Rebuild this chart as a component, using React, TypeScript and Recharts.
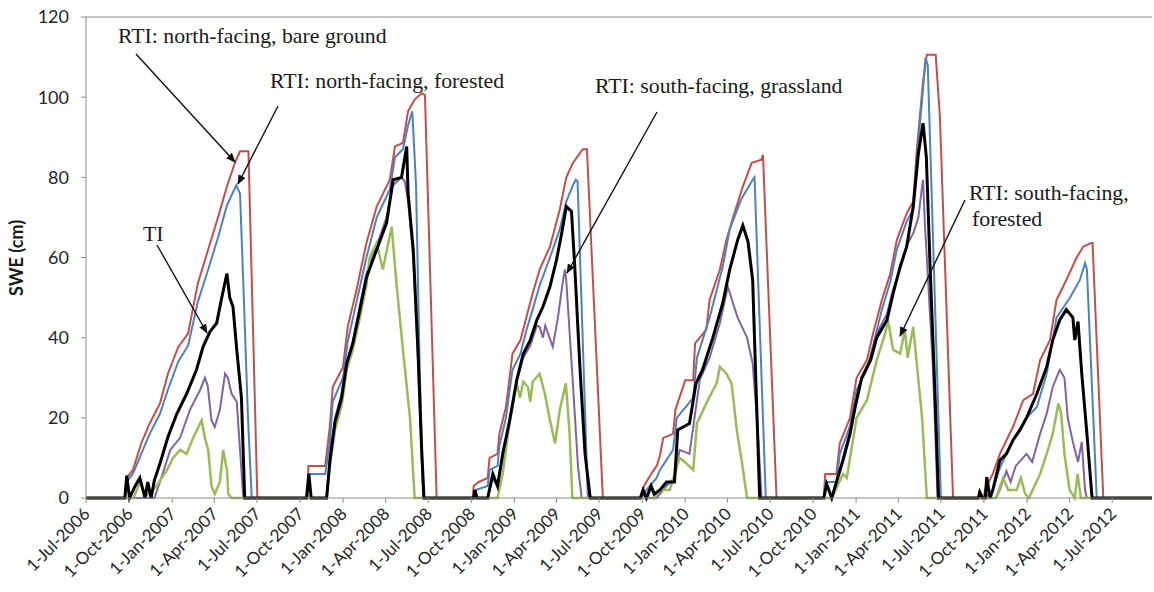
import React from 'react';
import { LineChart, Line, XAxis, YAxis, ReferenceLine } from 'recharts';

type Pt = [string, number];

// RTI: north-facing, bare ground (red)
const northBare: Pt[] = [
  ['2006-07-01', 0],
  ['2006-09-22', 0], ['2006-09-26', 5], ['2006-10-09', 7], ['2006-10-27', 13.6], ['2006-11-14', 18.6], ['2006-12-06', 23.6], ['2006-12-23', 31], ['2007-01-14', 37.7], ['2007-02-04', 41], ['2007-02-25', 53.6], ['2007-03-19', 62], ['2007-04-09', 70], ['2007-04-28', 77.7], ['2007-05-15', 83.6], ['2007-05-26', 86.5], ['2007-06-13', 86.5], ['2007-07-02', 0],
  ['2007-10-17', 0], ['2007-10-19', 8], ['2007-11-24', 8], ['2007-12-04', 18], ['2007-12-10', 27.7], ['2008-01-01', 32.7], ['2008-01-11', 42.7], ['2008-01-30', 52], ['2008-02-20', 63.6], ['2008-03-13', 72.7], ['2008-04-10', 79.4], ['2008-04-21', 87.7], ['2008-05-08', 88.6], ['2008-05-19', 96.5], ['2008-06-02', 99.4], ['2008-06-17', 101], ['2008-06-24', 100.5], ['2008-07-19', 0],
  ['2008-10-04', 0], ['2008-10-06', 3], ['2008-10-17', 4], ['2008-11-05', 5], ['2008-11-09', 10], ['2008-11-26', 11], ['2008-11-30', 16], ['2008-12-14', 22.7], ['2008-12-28', 36], ['2009-01-14', 39.4], ['2009-01-27', 45.2], ['2009-02-09', 51], ['2009-02-24', 57], ['2009-03-18', 62.7], ['2009-04-08', 72], ['2009-04-22', 80], ['2009-05-06', 83.6], ['2009-05-27', 87], ['2009-06-05', 87], ['2009-07-09', 0],
  ['2009-09-27', 0], ['2009-10-05', 3], ['2009-10-20', 6], ['2009-11-01', 8], ['2009-11-08', 10.6], ['2009-11-15', 15], ['2009-12-06', 16], ['2009-12-11', 22], ['2010-01-01', 29.4], ['2010-01-18', 29.4], ['2010-01-22', 38.6], ['2010-02-15', 42], ['2010-02-22', 49.4], ['2010-03-16', 57], ['2010-03-30', 64.4], ['2010-04-13', 70], ['2010-05-04', 77.7], ['2010-05-23', 83.6], ['2010-06-13', 84.4], ['2010-06-16', 85.6], ['2010-07-15', 0],
  ['2010-10-24', 0], ['2010-10-27', 6], ['2010-11-20', 6], ['2010-11-27', 13.6], ['2010-12-19', 20], ['2011-01-02', 30], ['2011-01-24', 34.4], ['2011-02-06', 41], ['2011-02-25', 49.4], ['2011-03-15', 56], ['2011-03-29', 64.4], ['2011-04-19', 71], ['2011-05-03', 74], ['2011-05-10', 86], ['2011-05-17', 95], ['2011-05-24', 104], ['2011-05-29', 108], ['2011-06-01', 110.6], ['2011-06-20', 110.6], ['2011-06-29', 95], ['2011-07-27', 0],
  ['2011-10-01', 0], ['2011-10-03', 2], ['2011-10-20', 6], ['2011-11-04', 11], ['2011-12-02', 17.7], ['2011-12-24', 24.4], ['2012-01-14', 26], ['2012-01-29', 34.4], ['2012-02-19', 39.4], ['2012-03-04', 49.4], ['2012-03-25', 54.4], ['2012-04-16', 60], ['2012-04-30', 62.7], ['2012-05-17', 63.6], ['2012-05-20', 63.6], ['2012-06-12', 0],
  ['2012-09-24', 0],
];

// RTI: north-facing, forested (blue)
const northForest: Pt[] = [
  ['2006-07-01', 0],
  ['2006-09-22', 0], ['2006-09-26', 4], ['2006-10-09', 6], ['2006-10-27', 11], ['2006-11-14', 16], ['2006-12-06', 21], ['2006-12-23', 27], ['2007-01-14', 34], ['2007-02-04', 38], ['2007-02-25', 49], ['2007-03-19', 57], ['2007-04-09', 65], ['2007-04-28', 73], ['2007-05-18', 78], ['2007-05-26', 76], ['2007-06-02', 53.6], ['2007-06-12', 20], ['2007-06-20', 0],
  ['2007-10-17', 0], ['2007-10-19', 6], ['2007-11-24', 6], ['2007-12-04', 14], ['2007-12-10', 24], ['2008-01-01', 30], ['2008-01-11', 39], ['2008-01-30', 49], ['2008-02-20', 60], ['2008-03-13', 70], ['2008-04-10', 77], ['2008-04-21', 85], ['2008-05-08', 87], ['2008-05-19', 93], ['2008-05-28', 96.5], ['2008-06-05', 78], ['2008-06-12', 37], ['2008-06-20', 0],
  ['2008-10-06', 0], ['2008-10-10', 2], ['2008-11-05', 3], ['2008-11-09', 7], ['2008-11-26', 8], ['2008-11-30', 13], ['2008-12-14', 20], ['2008-12-28', 32], ['2009-01-14', 36], ['2009-01-27', 42], ['2009-02-09', 47], ['2009-02-24', 53], ['2009-03-18', 60], ['2009-04-08', 67], ['2009-04-22', 74], ['2009-05-06', 78], ['2009-05-12', 79.4], ['2009-05-16', 79], ['2009-06-07', 0],
  ['2009-09-30', 0], ['2009-10-10', 2], ['2009-11-01', 5], ['2009-11-08', 7], ['2009-12-06', 12], ['2009-12-14', 20], ['2010-01-18', 25], ['2010-01-26', 35], ['2010-02-22', 45], ['2010-03-22', 57.7], ['2010-04-06', 67], ['2010-04-30', 74.4], ['2010-05-25', 79.4], ['2010-05-29', 80], ['2010-06-22', 0],
  ['2010-10-24', 0], ['2010-10-27', 4], ['2010-11-20', 4], ['2010-11-27', 11], ['2010-12-19', 18], ['2011-01-02', 27], ['2011-01-24', 32], ['2011-02-06', 38], ['2011-02-25', 47], ['2011-03-15', 54], ['2011-03-29', 62], ['2011-04-19', 69], ['2011-05-03', 72], ['2011-05-10', 83], ['2011-05-17', 93], ['2011-05-24', 102], ['2011-05-29', 109.8], ['2011-06-03', 108], ['2011-07-01', 0],
  ['2011-10-03', 0], ['2011-10-20', 2], ['2011-11-04', 7.5], ['2011-12-02', 14.4], ['2011-12-31', 20], ['2012-01-22', 22.7], ['2012-02-12', 31], ['2012-03-04', 45], ['2012-04-02', 50], ['2012-04-23', 54.4], ['2012-05-04', 58.6], ['2012-05-08', 57], ['2012-05-29', 0],
  ['2012-09-24', 0],
];

// TI (black)
const tiSwe: Pt[] = [
  ['2006-07-01', 0],
  ['2006-09-22', 0], ['2006-09-26', 5.6], ['2006-10-02', 0], ['2006-10-14', 3], ['2006-10-24', 5], ['2006-11-04', 0], ['2006-11-10', 4], ['2006-11-17', 0], ['2006-11-24', 4.4], ['2006-12-06', 8.6], ['2006-12-23', 15.2], ['2007-01-11', 21], ['2007-02-01', 26], ['2007-02-22', 32], ['2007-03-08', 37.7], ['2007-03-23', 41.5], ['2007-04-06', 43.6], ['2007-04-17', 50], ['2007-04-28', 56], ['2007-05-04', 50], ['2007-05-11', 47.7], ['2007-05-19', 37], ['2007-05-29', 25], ['2007-06-05', 0],
  ['2007-10-15', 0], ['2007-10-20', 6], ['2007-10-25', 0], ['2007-11-27', 0], ['2007-12-04', 9.4], ['2007-12-15', 19], ['2007-12-29', 25], ['2008-01-09', 33.6], ['2008-01-22', 38.6], ['2008-02-06', 47], ['2008-02-20', 55], ['2008-03-13', 62], ['2008-04-03', 68.6], ['2008-04-17', 79.4], ['2008-05-05', 80], ['2008-05-16', 87.7], ['2008-05-19', 76], ['2008-05-30', 62], ['2008-06-09', 37], ['2008-06-17', 12], ['2008-06-22', 0],
  ['2008-10-06', 0], ['2008-10-09', 2], ['2008-10-13', 0], ['2008-11-05', 0], ['2008-11-16', 6], ['2008-11-26', 3], ['2008-12-07', 11], ['2008-12-22', 19.4], ['2009-01-06', 29.4], ['2009-01-20', 36], ['2009-02-04', 39.4], ['2009-02-18', 44.4], ['2009-03-03', 47.7], ['2009-03-18', 52.7], ['2009-04-01', 59.4], ['2009-04-12', 66], ['2009-04-22', 72.7], ['2009-05-03', 71.5], ['2009-05-10', 57.7], ['2009-05-21', 32.7], ['2009-06-01', 11], ['2009-06-12', 0],
  ['2009-09-27', 0], ['2009-10-03', 2], ['2009-10-10', 0], ['2009-10-20', 3], ['2009-10-27', 1], ['2009-11-08', 2], ['2009-11-22', 4], ['2009-12-09', 4], ['2009-12-16', 17], ['2010-01-10', 18.6], ['2010-01-24', 28.6], ['2010-02-07', 32], ['2010-03-01', 40], ['2010-03-22', 48.6], ['2010-04-06', 57], ['2010-04-23', 64.4], ['2010-05-04', 68], ['2010-05-15', 64], ['2010-05-25', 54.4], ['2010-06-02', 25], ['2010-06-09', 0],
  ['2010-10-24', 0], ['2010-10-30', 3.5], ['2010-11-10', 0], ['2010-11-20', 4], ['2010-12-04', 9.4], ['2010-12-19', 16], ['2010-12-30', 22.7], ['2011-01-13', 30], ['2011-02-01', 34.4], ['2011-02-14', 40], ['2011-03-08', 44.4], ['2011-03-21', 51], ['2011-04-05', 57.7], ['2011-04-19', 62.7], ['2011-05-03', 72.7], ['2011-05-14', 86], ['2011-05-24', 93.5], ['2011-05-31', 85], ['2011-06-08', 57.7], ['2011-06-19', 24.4], ['2011-06-26', 0],
  ['2011-09-19', 0], ['2011-09-22', 1.5], ['2011-09-28', 0], ['2011-10-04', 0], ['2011-10-07', 5.2], ['2011-10-14', 0], ['2011-10-20', 2], ['2011-11-04', 9.4], ['2011-11-18', 11], ['2011-12-02', 14.4], ['2011-12-17', 17], ['2011-12-31', 20], ['2012-01-22', 26], ['2012-02-12', 32.7], ['2012-02-25', 39.4], ['2012-03-11', 44.4], ['2012-03-25', 47], ['2012-04-08', 45], ['2012-04-12', 39.4], ['2012-04-19', 44], ['2012-04-27', 31], ['2012-05-08', 16], ['2012-05-19', 0],
  ['2012-09-24', 0],
];

// RTI: south-facing, grassland (purple)
const southGrass: Pt[] = [
  ['2006-07-01', 0],
  ['2006-11-24', 0], ['2006-12-06', 4], ['2006-12-28', 12], ['2007-01-18', 15], ['2007-02-08', 22], ['2007-03-02', 27], ['2007-03-12', 30], ['2007-03-18', 28], ['2007-03-26', 19.4], ['2007-04-02', 17.7], ['2007-04-13', 22], ['2007-04-24', 31], ['2007-04-30', 30], ['2007-05-08', 26], ['2007-05-19', 24], ['2007-05-26', 12], ['2007-06-02', 0],
  ['2007-11-27', 0], ['2007-12-04', 10], ['2007-12-15', 20], ['2007-12-29', 26], ['2008-01-09', 34], ['2008-01-22', 39], ['2008-02-06', 48], ['2008-02-20', 56], ['2008-03-13', 63], ['2008-04-03', 70], ['2008-04-17', 78], ['2008-05-05', 80], ['2008-05-12', 79], ['2008-05-19', 74], ['2008-05-30', 60], ['2008-06-09', 35], ['2008-06-17', 10], ['2008-06-21', 0],
  ['2008-11-05', 0], ['2008-11-16', 5], ['2008-11-26', 3], ['2008-12-07', 10], ['2008-12-22', 19], ['2009-01-06', 29], ['2009-01-20', 35], ['2009-02-04', 38], ['2009-02-18', 43], ['2009-02-24', 42.7], ['2009-03-03', 40], ['2009-03-08', 43], ['2009-03-24', 37.7], ['2009-04-04', 45], ['2009-04-15', 54.4], ['2009-04-19', 57], ['2009-04-22', 54], ['2009-05-06', 28.6], ['2009-05-17', 7.7], ['2009-05-25', 0],
  ['2009-11-01', 0], ['2009-11-22', 3], ['2009-12-09', 5], ['2009-12-20', 12], ['2010-01-10', 11], ['2010-02-01', 29.4], ['2010-02-22', 35], ['2010-03-16', 43.6], ['2010-04-02', 52.7], ['2010-04-13', 48.6], ['2010-04-23', 45], ['2010-05-13', 40], ['2010-05-25', 33.6], ['2010-06-05', 17], ['2010-06-13', 0],
  ['2010-11-10', 0], ['2010-11-20', 4], ['2010-12-04', 10], ['2010-12-19', 17], ['2010-12-30', 24], ['2011-01-13', 30], ['2011-02-01', 35], ['2011-02-14', 41], ['2011-03-08', 46], ['2011-03-21', 52], ['2011-04-05', 57], ['2011-04-19', 63], ['2011-05-03', 66], ['2011-05-14', 70], ['2011-05-20', 76], ['2011-05-24', 79.4], ['2011-05-28', 68], ['2011-06-01', 60], ['2011-06-14', 32.7], ['2011-06-24', 0],
  ['2011-10-27', 0], ['2011-11-04', 2], ['2011-11-18', 6.7], ['2011-11-27', 4], ['2011-12-08', 8], ['2011-12-31', 11], ['2012-01-12', 9], ['2012-01-29', 16], ['2012-02-12', 21], ['2012-02-25', 27.7], ['2012-03-11', 32], ['2012-03-21', 30], ['2012-03-28', 20], ['2012-04-08', 14], ['2012-04-19', 9], ['2012-04-27', 14], ['2012-05-04', 2], ['2012-05-08', 0],
  ['2012-09-24', 0],
];

// RTI: south-facing, forested (green)
const southForest: Pt[] = [
  ['2006-07-01', 0],
  ['2006-10-10', 0], ['2006-10-14', 1], ['2006-10-24', 4], ['2006-11-07', 0.5], ['2006-11-29', 3], ['2006-12-21', 7], ['2007-01-03', 10], ['2007-01-18', 12], ['2007-02-01', 11], ['2007-02-15', 15], ['2007-02-26', 17.7], ['2007-03-05', 19.4], ['2007-03-12', 15], ['2007-03-19', 12], ['2007-03-26', 3], ['2007-04-02', 1], ['2007-04-13', 4], ['2007-04-20', 12], ['2007-04-28', 7], ['2007-05-01', 1], ['2007-05-08', 0],
  ['2007-11-27', 0], ['2007-12-04', 8], ['2007-12-15', 17], ['2007-12-29', 23], ['2008-01-09', 32], ['2008-01-22', 37], ['2008-02-06', 45], ['2008-02-20', 53], ['2008-02-27', 60], ['2008-03-13', 63.6], ['2008-03-26', 57], ['2008-04-14', 67.7], ['2008-04-24', 53.6], ['2008-05-08', 37], ['2008-05-23', 20], ['2008-06-02', 0],
  ['2008-11-26', 0], ['2008-12-07', 6], ['2008-12-22', 19], ['2009-01-06', 28.6], ['2009-01-13', 25], ['2009-01-20', 29], ['2009-01-30', 27.7], ['2009-02-04', 24], ['2009-02-09', 29], ['2009-02-24', 31], ['2009-03-07', 26], ['2009-03-18', 19.4], ['2009-03-29', 13.6], ['2009-04-08', 22], ['2009-04-21', 28.6], ['2009-04-29', 16], ['2009-05-05', 0],
  ['2009-10-13', 0], ['2009-10-20', 3], ['2009-10-27', 0], ['2009-11-08', 2], ['2009-11-29', 2], ['2009-12-20', 10], ['2009-12-31', 9], ['2010-01-18', 7], ['2010-01-26', 18.6], ['2010-02-15', 23.6], ['2010-03-09', 28.6], ['2010-03-16', 32.7], ['2010-03-30', 31], ['2010-04-10', 28.6], ['2010-04-21', 17], ['2010-05-02', 9], ['2010-05-13', 0],
  ['2010-11-10', 0], ['2010-12-04', 6], ['2010-12-12', 5], ['2011-01-02', 20], ['2011-01-24', 24.4], ['2011-02-14', 34.4], ['2011-03-04', 41], ['2011-03-10', 44.4], ['2011-03-21', 37], ['2011-04-05', 36], ['2011-04-15', 42], ['2011-04-21', 35], ['2011-05-03', 42.7], ['2011-05-14', 29.4], ['2011-05-22', 20], ['2011-06-01', 0],
  ['2011-10-27', 0], ['2011-11-11', 5], ['2011-11-22', 2], ['2011-12-10', 2], ['2011-12-19', 5], ['2011-12-28', 1], ['2012-01-05', 0], ['2012-01-29', 6], ['2012-02-12', 11], ['2012-02-25', 16], ['2012-03-08', 23.6], ['2012-03-14', 21], ['2012-03-21', 11], ['2012-04-01', 2], ['2012-04-12', 0], ['2012-04-18', 6], ['2012-04-25', 0],
  ['2012-09-24', 0],
];

const xTickDates = [
  '2006-07-01', '2006-10-01', '2007-01-01', '2007-04-01', '2007-07-01', '2007-10-01', '2008-01-01', '2008-04-01', '2008-07-01',
  '2008-10-01', '2009-01-01', '2009-04-01', '2009-07-01', '2009-10-01', '2010-01-01', '2010-04-01', '2010-07-01', '2010-10-01',
  '2011-01-01', '2011-04-01', '2011-07-01', '2011-10-01', '2012-01-01', '2012-04-01', '2012-07-01',
];
const xDomain = ['2006-07-01', '2012-09-24'];
const yTicks = [0, 20, 40, 60, 80, 100, 120];
const MONTHS = ['Jan', 'Feb', 'Mar', 'Apr', 'May', 'Jun', 'Jul', 'Aug', 'Sep', 'Oct', 'Nov', 'Dec'];

const toT = (s: string) => {
  const [y, m, d] = s.split('-').map(Number);
  return Date.UTC(y, m - 1, d);
};
const fmt = (t: number) => {
  const d = new Date(t);
  return `${d.getUTCDate()}-${MONTHS[d.getUTCMonth()]}-${d.getUTCFullYear()}`;
};
const toRows = (pts: Pt[]) => pts.map(([d, v]) => ({ t: toT(d), v }));

const XTick = (props: any) => {
  const { x, y, payload } = props;
  const ox = x + 5;
  const oy = y + 10;
  return (
    <text x={ox} y={oy} transform={`rotate(-45, ${ox}, ${oy})`} textAnchor="end" fontSize={17} fontFamily="Lato" fill="#262626">
      {fmt(payload.value)}
    </text>
  );
};

const AXIS = '#8c8c8c';

export default function App() {
  const series = [
    { pts: northBare, color: '#C0504D', w: 2 },
    { pts: northForest, color: '#4F81BD', w: 2 },
    { pts: southGrass, color: '#8064A2', w: 2 },
    { pts: southForest, color: '#9BBB59', w: 2.5 },
    { pts: tiSwe, color: '#000000', w: 3 },
  ];
  const serif = '"Liberation Serif", "Times New Roman", serif';
  return (
    <div style={{ position: 'absolute', left: 0, top: 0, width: 1154, height: 592, background: '#fff' }}>
      <LineChart width={1154} height={592} margin={{ top: 17, right: 2, left: 0, bottom: 0 }}>
        <XAxis
          type="number"
          dataKey="t"
          domain={[toT(xDomain[0]), toT(xDomain[1])]}
          ticks={xTickDates.map(toT)}
          tick={<XTick />}
          tickSize={5}
          tickMargin={2}
          height={94}
          interval={0}
          allowDataOverflow
          axisLine={{ stroke: AXIS }}
          tickLine={{ stroke: AXIS }}
        />
        <YAxis
          type="number"
          domain={[0, 120]}
          ticks={yTicks}
          width={86}
          tickSize={5}
          tickMargin={12}
          axisLine={{ stroke: AXIS }}
          tickLine={{ stroke: AXIS }}
          tick={{ fontSize: 18, fontFamily: 'Lato', fill: '#262626' }}
        />
        <ReferenceLine y={120} stroke={AXIS} />
        {series.map((s, i) => (
          <Line
            key={i}
            data={toRows(s.pts)}
            dataKey="v"
            type="linear"
            stroke={s.color}
            strokeWidth={s.w}
            dot={false}
            activeDot={false}
            isAnimationActive={false}
          />
        ))}
      </LineChart>
      <svg width={1154} height={592} style={{ position: 'absolute', left: 0, top: 0, pointerEvents: 'none' }}>
        <defs>
          <marker id="ah" viewBox="0 0 10 10" refX="9" refY="5" markerWidth="7" markerHeight="7" orient="auto">
            <path d="M0,1 L10,5 L0,9 z" fill="#111" />
          </marker>
        </defs>
        <text x={23} y={258} transform="rotate(-90, 23, 258)" textAnchor="middle" fontFamily="Lato" fontWeight="bold" fontSize={18} fill="#1a1a1a">
          SWE (cm)
        </text>
        <g fontFamily={serif} fontSize={21.8} fill="#1a1a1a">
          <text x={118} y={43}>RTI: north-facing, bare ground</text>
          <text x={270} y={88}>RTI: north-facing, forested</text>
          <text x={595} y={93}>RTI: south-facing, grassland</text>
          <text x={143} y={241}>TI</text>
          <text x={969} y={200}>RTI: south-facing,</text>
          <text x={972} y={226}>forested</text>
        </g>
        <g stroke="#111" strokeWidth={1.4} markerEnd="url(#ah)">
          <line x1={136} y1={54} x2={235} y2={162} />
          <line x1={278} y1={106} x2={238} y2={184} />
          <line x1={157} y1={245} x2={207} y2={333} />
          <line x1={657} y1={112} x2={567} y2={273} />
          <line x1={965} y1={200} x2={900} y2={336} />
        </g>
      </svg>
    </div>
  );
}
